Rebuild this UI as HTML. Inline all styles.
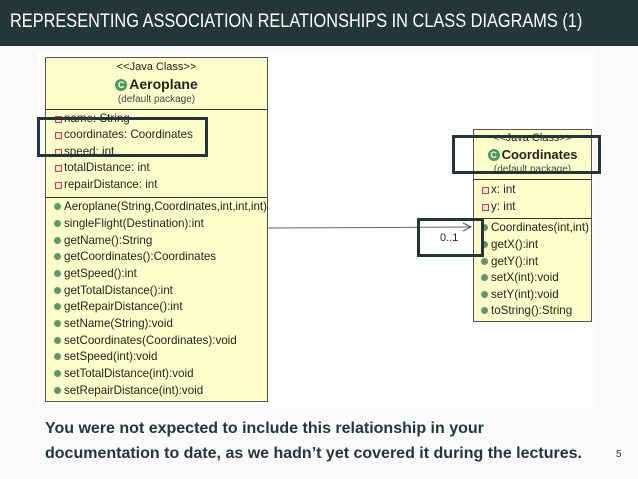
<!DOCTYPE html>
<html><head><meta charset="utf-8"><style>
*{margin:0;padding:0;box-sizing:border-box}
body{width:638px;height:479px;background:#fafafa;position:relative;overflow:hidden;font-family:"Liberation Sans",Arial,sans-serif}
.hdr{position:absolute;left:0;top:0;width:638px;height:46px;background:#23373b}
.hdr span{position:absolute;left:10px;top:0;color:#fff;font-size:19px;line-height:44px;white-space:nowrap;transform:scaleX(0.86);transform-origin:left center}
.dg{position:absolute;left:37px;top:52px;width:557px;height:355px;background:#fff}
.box{position:absolute;background:#ffffcc;border:1px solid #555}
.sep{position:absolute;left:0;right:0;height:1px;background:#333}
.t{position:absolute;font-size:11.6px;color:#222;white-space:nowrap;line-height:13px}
.a::before{content:"";position:absolute;left:-9px;top:4px;width:5px;height:5px;border:1px solid #c44;background:#fdd}
.m::before{content:"";position:absolute;left:-10px;top:3px;width:7px;height:7px;border-radius:50%;background:#5a9a6a}
.hl{position:absolute;border:3px solid #23373b}
.c{position:absolute;width:100%;text-align:center;white-space:nowrap;color:#222}
.g{display:inline-block;width:12px;height:12px;border-radius:50%;background:#4a9a5a;color:#fff;font-size:9px;line-height:12px;text-align:center;vertical-align:1px;margin-right:2px}
.foot{position:absolute;left:45px;font-weight:bold;font-size:16px;color:#23373b;white-space:nowrap;transform-origin:left center}
</style></head><body>
<div class="hdr"><span>REPRESENTING ASSOCIATION RELATIONSHIPS IN CLASS DIAGRAMS (1)</span></div>
<div class="dg"></div>

<div class="box" style="left:45px;top:57px;width:223px;height:345px">
 <div class="c" style="top:3px;font-size:11px">&lt;&lt;Java Class&gt;&gt;</div>
 <div class="c" style="top:18px;font-size:14px;font-weight:bold"><span class="g">C</span>Aeroplane</div>
 <div class="c" style="top:36px;font-size:10px;color:#444">(default package)</div>
 <div class="sep" style="top:51px"></div>
 <div class="sep" style="top:139px"></div>
</div>
<div class="t a" style="left:64px;top:112px">name: String</div>
<div class="t a" style="left:64px;top:128px">coordinates: Coordinates</div>
<div class="t a" style="left:64px;top:145px">speed: int</div>
<div class="t a" style="left:64px;top:161px">totalDistance: int</div>
<div class="t a" style="left:64px;top:178px">repairDistance: int</div>

<div class="t m" style="left:64px;top:200px">Aeroplane(String,Coordinates,int,int,int)</div>
<div class="t m" style="left:64px;top:217px">singleFlight(Destination):int</div>
<div class="t m" style="left:64px;top:234px">getName():String</div>
<div class="t m" style="left:64px;top:250px">getCoordinates():Coordinates</div>
<div class="t m" style="left:64px;top:267px">getSpeed():int</div>
<div class="t m" style="left:64px;top:284px">getTotalDistance():int</div>
<div class="t m" style="left:64px;top:300px">getRepairDistance():int</div>
<div class="t m" style="left:64px;top:317px">setName(String):void</div>
<div class="t m" style="left:64px;top:334px">setCoordinates(Coordinates):void</div>
<div class="t m" style="left:64px;top:350px">setSpeed(int):void</div>
<div class="t m" style="left:64px;top:367px">setTotalDistance(int):void</div>
<div class="t m" style="left:64px;top:384px">setRepairDistance(int):void</div>

<div class="box" style="left:473px;top:129px;width:119px;height:193px">
 <div class="c" style="top:2px;font-size:11px">&lt;&lt;Java Class&gt;&gt;</div>
 <div class="c" style="top:17px;font-size:13px;font-weight:bold"><span class="g">C</span>Coordinates</div>
 <div class="c" style="top:34px;font-size:10px;color:#444">(default package)</div>
 <div class="sep" style="top:49px"></div>
 <div class="sep" style="top:88px"></div>
</div>
<div class="t a" style="left:491px;top:183px">x: int</div>
<div class="t a" style="left:491px;top:200px">y: int</div>
<div class="t m" style="left:491px;top:221px">Coordinates(int,int)</div>
<div class="t m" style="left:491px;top:238px">getX():int</div>
<div class="t m" style="left:491px;top:255px">getY():int</div>
<div class="t m" style="left:491px;top:271px">setX(int):void</div>
<div class="t m" style="left:491px;top:288px">setY(int):void</div>
<div class="t m" style="left:491px;top:304px">toString():String</div>

<svg style="position:absolute;left:0;top:0" width="638" height="479">
 <line x1="268" y1="228" x2="471" y2="227" stroke="#666" stroke-width="1"/>
 <polyline points="463,223 471,227 463,231" fill="none" stroke="#555" stroke-width="1"/>
</svg>
<div class="t" style="left:440px;top:232px;font-size:11px">0..1</div>

<div class="hl" style="left:37px;top:117px;width:171px;height:40px"></div>
<div class="hl" style="left:452px;top:135px;width:149px;height:39px"></div>
<div class="hl" style="left:417px;top:218px;width:67px;height:39px"></div>

<div class="foot" style="top:420px">You were not expected to include this relationship in your</div>
<div class="foot" style="top:445px">documentation to date, as we hadn’t yet covered it during the lectures.</div>
<div style="position:absolute;left:616px;top:449px;font-size:10px;color:#23373b">5</div>
</body></html>
